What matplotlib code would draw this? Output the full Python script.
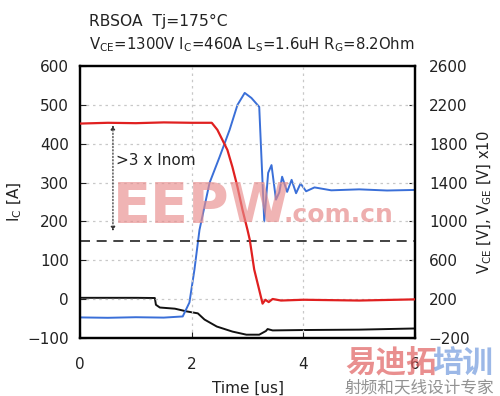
import matplotlib
matplotlib.use("Agg", force=True)
import matplotlib.pyplot as plt

plt.rcParams["font.family"] = ["DejaVu Sans", "Noto Sans CJK SC"]
plt.rcParams["mathtext.default"] = "regular"

# I_C [A] (left axis)
ic_t = [0.0, 0.5, 1.0, 1.5, 2.0, 2.36, 2.46, 2.55, 2.64, 2.73, 2.82, 2.91, 3.0, 3.04,
        3.12, 3.27, 3.32, 3.38, 3.45, 3.6, 4.0, 5.0, 6.0]
ic_a = [452, 454, 453, 455, 454, 454, 436, 410, 384, 340, 289, 230, 178, 153,
        76, -12, -2, -8, 0, -4, -2, -4, -1]

# V_CE [V] (right axis)
vce_t = [0.0, 0.5, 1.0, 1.5, 1.84, 1.96, 2.05, 2.14, 2.32, 2.5, 2.68, 2.82, 2.95,
         3.07, 3.21, 3.30, 3.37, 3.43, 3.51, 3.57, 3.62, 3.71, 3.79, 3.87, 3.95,
         4.05, 4.2, 4.5, 5.0, 5.5, 6.0]
vce_v = [10, 6, 12, 8, 20, 164, 504, 912, 1396, 1664, 1944, 2200, 2324,
         2272, 2180, 1000, 1500, 1580, 1224, 1300, 1460, 1304, 1428, 1290, 1390,
         1310, 1350, 1320, 1330, 1318, 1324]

# V_GE x10 (right axis)
vge_t = [0.0, 0.5, 1.0, 1.34, 1.36, 1.43, 1.7, 1.91, 2.11, 2.23, 2.45, 2.73, 2.98,
         3.21, 3.33, 3.36, 3.45, 4.0, 5.0, 6.0]
vge_v = [212, 212, 212, 210, 140, 112, 100, 72, 52, -12, -84, -136, -168,
         -168, -130, -110, -124, -120, -116, -104]

arrow_top = 448
arrow_bottom = 175
limit_ic = 150

fig = plt.figure(figsize=(5.0, 3.96), dpi=100)
ax = fig.add_axes([0.16, 0.147, 0.67, 0.686])
ax2 = ax.twinx()

grid_kw = dict(color="#c8c8c8", linestyle=(0, (2, 3)), linewidth=0.9)
for yv in [0, 100, 200, 300, 400, 500]:
    ax.axhline(yv, zorder=0, **grid_kw)
for xv in [2, 4]:
    ax.axvline(xv, zorder=0, **grid_kw)

ax.axhline(limit_ic, color="#222222", linestyle=(0, (6, 4)), linewidth=1.2, zorder=1)

ax2.plot(vge_t, vge_v, color="#111111", linewidth=1.4)
ax2.plot(vce_t, vce_v, color="#3a6fd8", linewidth=1.4)
ax.plot(ic_t, ic_a, color="#e02020", linewidth=1.6, zorder=5)
ax.set_zorder(ax2.get_zorder() + 1)
ax.patch.set_visible(False)

ax.annotate("", xy=(0.59, arrow_bottom), xytext=(0.59, arrow_top),
            arrowprops=dict(arrowstyle="<|-|>", linestyle=":", color="#333333",
                            linewidth=0.9, mutation_scale=6, shrinkA=0, shrinkB=0))
ax.text(0.64, 358, ">3 x Inom", fontsize=11, va="center", ha="left", color="#222222")

ax.set_xlim(0, 6)
ax.set_ylim(-100, 600)
ax2.set_ylim(-200, 2600)
ax.set_xticks([0, 2, 4, 6])
ax.set_yticks(range(-100, 601, 100))
ax2.set_yticks(range(-200, 2601, 400))
ax.tick_params(direction="in", length=4, labelsize=11, pad=8, colors="#222222")
ax2.tick_params(direction="in", length=4, labelsize=11, pad=10, colors="#222222")
ax.tick_params(axis="x", pad=14)
for a in (ax, ax2):
    for s in a.spines.values():
        s.set_linewidth(1.6)

ax.set_xlabel("Time [us]", fontsize=11, labelpad=6, color="#222222")
ax.set_ylabel("I$_C$ [A]", fontsize=11, labelpad=2, color="#222222")
ax2.set_ylabel("V$_{CE}$ [V], V$_{GE}$ [V] x10", fontsize=10.5, labelpad=4, color="#222222")

fig.text(0.178, 0.935, "RBSOA  Tj=175°C", fontsize=11.2, color="#222222", va="baseline")
fig.text(0.178, 0.875, "V$_{CE}$=1300V I$_C$=460A L$_S$=1.6uH R$_G$=8.2Ohm",
         fontsize=10.7, color="#222222", va="baseline")

# watermark
fig.text(0.225, 0.44, "EEPW", fontsize=40, fontweight="bold", color="#e88c8c",
         alpha=0.65, va="baseline", zorder=10)
fig.text(0.566, 0.44, ".com.cn", fontsize=18, fontweight="bold", color="#e88c8c",
         alpha=0.7, va="baseline", zorder=10)
fig.text(0.69, 0.06, "易迪拓", fontsize=22, fontweight="bold", color="#e06060",
         alpha=0.7, va="baseline", zorder=10)
fig.text(0.865, 0.06, "培训", fontsize=22, fontweight="bold", color="#5a8ad8",
         alpha=0.6, va="baseline", zorder=10)
fig.text(0.69, 0.01, "射频和天线设计专家", fontsize=12, color="#777777",
         alpha=0.8, va="baseline", zorder=10)

fig.savefig("out.png", dpi=100)
